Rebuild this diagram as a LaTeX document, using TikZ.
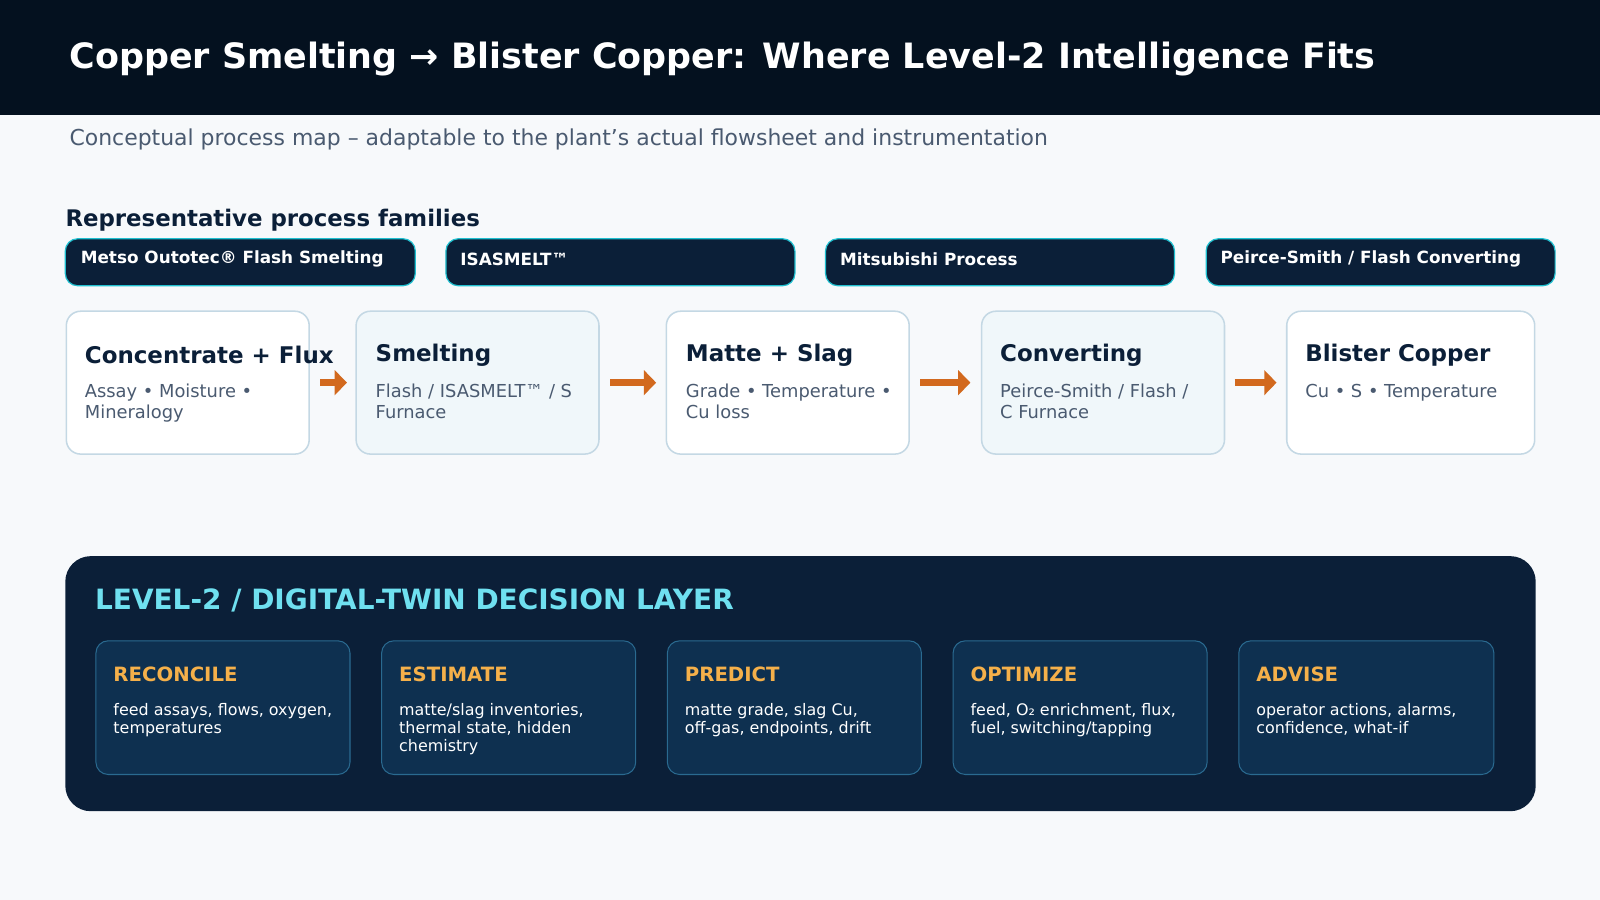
\documentclass[tikz,border=0pt]{standalone}
\usepackage{fontspec}
\setmainfont{DejaVu Sans}
\usetikzlibrary{arrows.meta}
\definecolor{hdr}{HTML}{04111F}
\definecolor{bg}{HTML}{F7F9FB}
\definecolor{navy}{HTML}{0B1F38}
\definecolor{cyanb}{HTML}{1FC0D0}
\definecolor{sub}{HTML}{4A5A70}
\definecolor{bbord}{HTML}{C4D8E4}
\definecolor{orng}{HTML}{D2691E}
\definecolor{inner}{HTML}{0E3050}
\definecolor{innerb}{HTML}{2A6A90}
\definecolor{lcyan}{HTML}{6FE0F0}
\definecolor{lorng}{HTML}{F5B04A}
\definecolor{tint}{HTML}{F0F7FA}
\begin{document}
\begin{tikzpicture}[x=1pt,y=-1pt,
 pill/.style={draw=cyanb,line width=1.2pt,fill=navy,rounded corners=12pt},
 pilltxt/.style={anchor=west,text=white,font=\fontsize{16.5}{19}\selectfont\bfseries,inner sep=0},
 box/.style={draw=bbord,line width=1.5pt,rounded corners=14pt},
 btitle/.style={anchor=west,text=navy,font=\fontsize{22.5}{26}\selectfont\bfseries,inner sep=0},
 btext/.style={anchor=north west,text=sub,font=\fontsize{17.5}{21}\selectfont,inner sep=0,align=left},
 arr/.style={orng,line width=7pt,-{Triangle[length=12pt,width=24pt]}},
 ibox/.style={draw=innerb,line width=1pt,fill=inner,rounded corners=12pt},
 ititle/.style={anchor=west,text=lorng,font=\fontsize{19.3}{22}\selectfont\bfseries,inner sep=0},
 itext/.style={anchor=north west,text=white,font=\fontsize{15.6}{17.7}\selectfont,inner sep=0,align=left}]
\fill[bg] (0,0) rectangle (1568,882);
\useasboundingbox (0,0) rectangle (1568,882);
\fill[hdr] (0,0) rectangle (1568,113);
\node[anchor=west,text=white,font=\fontsize{34.2}{38}\selectfont\bfseries,inner sep=0] (title) at (68,58) {Copper Smelting → Blister Copper: Where Level-2 Intelligence Fits};
\node[anchor=west,text=sub,font=\fontsize{21.5}{25}\selectfont,inner sep=0] (subt) at (68,137) {Conceptual process map – adaptable to the plant’s actual flowsheet and instrumentation};
\node[anchor=west,text=navy,font=\fontsize{22.4}{26}\selectfont\bfseries,inner sep=0] (fam) at (64,216) {Representative process families};
% pills
\draw[pill] (64,234) rectangle (407,280); \node[pilltxt] (p1) at (79,254) {Metso Outotec® Flash Smelting};
\draw[pill] (437,234) rectangle (779,280); \node[pilltxt] (p2) at (451,254) {ISASMELT™};
\draw[pill] (809,234) rectangle (1151,280); \node[pilltxt] (p3) at (823,254) {Mitsubishi Process};
\draw[pill] (1182,234) rectangle (1524,280); \node[pilltxt] (p4) at (1196,254) {Peirce-Smith / Flash Converting};
% process boxes
\draw[box,fill=white] (65,305) rectangle (303,445);
\draw[box,fill=tint] (349,305) rectangle (587,445);
\draw[box,fill=white] (653,305) rectangle (891,445);
\draw[box,fill=tint] (962,305) rectangle (1200,445);
\draw[box,fill=white] (1261,305) rectangle (1504,445);
\node[btitle] (b1) at (83,348) {Concentrate + Flux};
\node[btext] (b1t) at (83,376) {Assay • Moisture •\\Mineralogy};
\node[btitle] (b2) at (368,348) {Smelting};
\node[btext] (b2t) at (368,376) {Flash / ISASMELT™ / S\\Furnace};
\node[btitle] (b3) at (672,348) {Matte + Slag};
\node[btext] (b3t) at (672,376) {Grade • Temperature •\\Cu loss};
\node[btitle] (b4) at (980,348) {Converting};
\node[btext] (b4t) at (980,376) {Peirce-Smith / Flash /\\C Furnace};
\node[btitle] (b5) at (1279,348) {Blister Copper};
\node[btext] (b5t) at (1279,376) {Cu • S • Temperature};
\coordinate (a1s) at (314,375); \coordinate (a1e) at (340,375);
\coordinate (a2s) at (598,375); \coordinate (a2e) at (643,375);
\coordinate (a3s) at (902,375); \coordinate (a3e) at (951,375);
\coordinate (a4s) at (1210,375); \coordinate (a4e) at (1251,375);
\draw[arr] (a1s) -- (a1e); \draw[arr] (a2s) -- (a2e);
\draw[arr] (a3s) -- (a3e); \draw[arr] (a4s) -- (a4e);
% level 2 panel
\fill[navy,rounded corners=25pt] (64,545) rectangle (1505,795);
\node[anchor=west,text=lcyan,font=\fontsize{27.4}{31}\selectfont\bfseries,inner sep=0] (lh) at (93,588) {LEVEL-2 / DIGITAL-TWIN DECISION LAYER};
\draw[ibox] (94,628) rectangle (343,759);
\draw[ibox] (374,628) rectangle (623,759);
\draw[ibox] (654,628) rectangle (903,759);
\draw[ibox] (934,628) rectangle (1183,759);
\draw[ibox] (1214,628) rectangle (1464,759);
\node[ititle] (i1) at (111,661) {RECONCILE};
\node[itext] (i1t) at (111,689) {feed assays, flows, oxygen,\\temperatures};
\node[ititle] (i2) at (391,661) {ESTIMATE};
\node[itext] (i2t) at (391,689) {matte/slag inventories,\\thermal state, hidden\\chemistry};
\node[ititle] (i3) at (671,661) {PREDICT};
\node[itext] (i3t) at (671,689) {matte grade, slag Cu,\\off-gas, endpoints, drift};
\node[ititle] (i4) at (951,661) {OPTIMIZE};
\node[itext] (i4t) at (951,689) {feed, O₂ enrichment, flux,\\fuel, switching/tapping};
\node[ititle] (i5) at (1231,661) {ADVISE};
\node[itext] (i5t) at (1231,689) {operator actions, alarms,\\confidence, what-if};
\end{tikzpicture}
\end{document}
